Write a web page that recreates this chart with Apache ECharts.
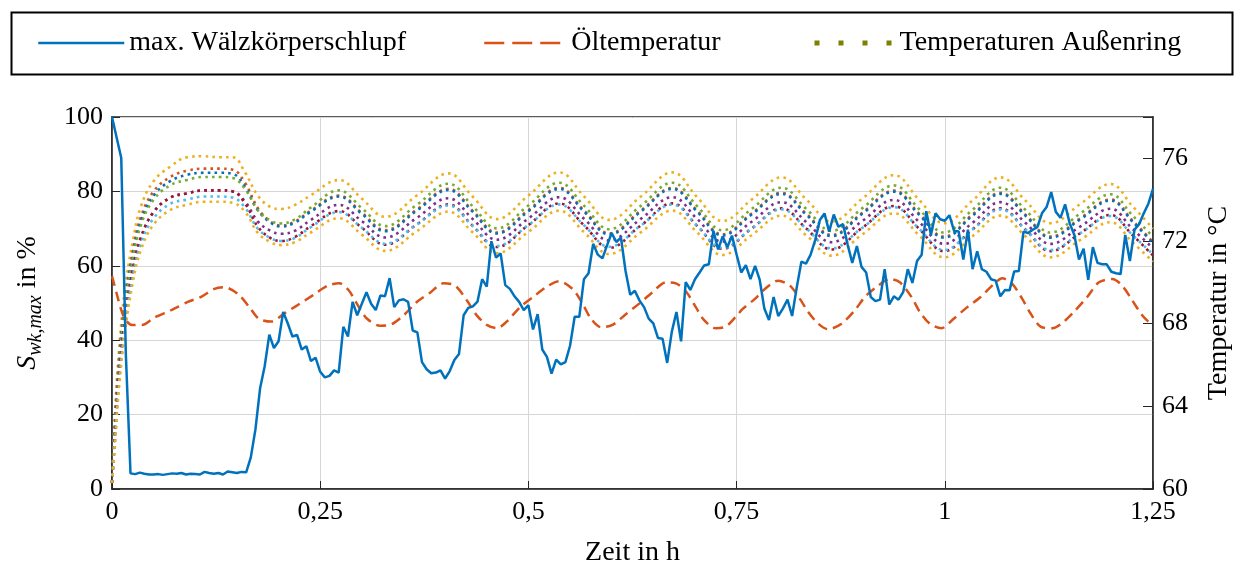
<!DOCTYPE html>
<html>
<head>
<meta charset="utf-8">
<script src="https://cdn.jsdelivr.net/npm/echarts@6/dist/echarts.min.js"></script>
<style>
  html, body { margin: 0; padding: 0; background: #ffffff; }
  #chart { width: 1241px; height: 572px; }
</style>
</head>
<body>
<div id="chart"></div>
<script>
// ---- axis ticks ----
const timeTicks = [0, 0.25, 0.5, 0.75, 1, 1.25];        // Zeit in h
const slipTicks = [0, 20, 40, 60, 80, 100];             // S_wk,max in %
const tempTicks = [60, 64, 68, 72, 76];                 // Temperatur in °C

// ---- max. Wälzkörperschlupf, sampled every 20 s ----
const slipStepH = 1 / 180;
const slipValues = [
  100, 94.5, 89, 36,
  4.2, 4.0, 4.4, 4.1, 3.9, 3.9, 4.0, 3.8, 4.0, 4.2, 4.1, 4.3, 3.9, 4.1, 4.0, 3.9,
  4.6, 4.3, 4.1, 4.3, 3.9, 4.7, 4.5, 4.3, 4.6, 4.5,
  8.5, 16, 27, 33, 41.5, 37.9, 39.7, 47.6, 44.5, 41,
  41.4, 37.5, 38.4, 34.4, 35.3, 31.5, 30.0, 30.4, 31.9, 31.3,
  43.6, 41, 50.3, 46.7, 49.8, 52.9, 49.8, 48.1, 52.0, 51.8,
  56.7, 48.9, 50.7, 51.0, 50.3, 42.6, 42.1, 34.1, 32.2, 31.1,
  31.3, 31.9, 29.7, 31.7, 34.7, 36.3, 46.7, 48.7, 49.1, 50.4,
  56.4, 54.4, 66.6, 62.2, 63.3, 54.8, 53.8, 51.8, 50.3, 48.1,
  49.4, 42.9, 47.0, 37.5, 35.5, 31.0, 34.8, 33.5, 34.1, 38.5,
  46.3, 46.3, 56.4, 58.0, 65.9, 63.0, 62.0, 65.5, 68.8, 66.4,
  67.6, 58.6, 52.2, 53.3, 50.7, 48.9, 45.8, 44.5, 40.6, 40.4,
  33.9, 42.3, 47.6, 39.7, 55.6, 53.5, 56.4, 58.2, 60.1, 60.4,
  69.4, 64.4, 67.9, 65.0, 68.1, 63.0, 58.2, 60.2, 56.4, 60.0,
  56.2, 48.5, 45.4, 51.6, 46.5, 48.5, 50.9, 46.5, 54.2, 61.1,
  60.6, 63.0, 67.0, 72.3, 74.1, 69.2, 73.8, 70.5, 71.2, 65.7,
  60.8, 65.3, 59.7, 58.2, 51.6, 50.5, 50.9, 59.1, 49.6, 51.8,
  50.9, 52.9, 59.1, 55.4, 61.3, 63.0, 74.7, 68.3, 74.1, 72.5,
  72.1, 73.6, 69.4, 69.2, 61.7, 69.7, 59.1, 63.9, 59.1, 58.4,
  56.4, 56.0, 51.8, 53.5, 53.4, 58.5, 58.6, 69.2, 68.8, 69.7,
  70.4, 74.1, 75.8, 79.8, 74.5, 72.9, 76.5, 71.4, 68.3, 61.7,
  64.6, 56.2, 65.0, 60.8, 60.4, 60.4, 58.4, 58.0, 57.8, 68.3,
  61.3, 69.7, 71.2, 74.1, 76.7, 80.7
];

// ---- Öltemperatur ----
const oilTime = [
  0.000, 0.006, 0.010, 0.016, 0.024, 0.036, 0.051, 0.071, 0.091, 0.107,
  0.123, 0.135, 0.151, 0.165, 0.176, 0.191, 0.207, 0.223, 0.241, 0.259,
  0.273, 0.284, 0.294, 0.306, 0.322, 0.334, 0.350, 0.366, 0.382, 0.398,
  0.412, 0.426, 0.438, 0.450, 0.462, 0.474, 0.490, 0.506, 0.521, 0.537,
  0.553, 0.565, 0.575, 0.587, 0.601, 0.617, 0.633, 0.649, 0.665, 0.677,
  0.689, 0.701, 0.711, 0.725, 0.737, 0.749, 0.757, 0.772, 0.784, 0.800,
  0.814, 0.826, 0.836, 0.848, 0.860, 0.876, 0.892, 0.904, 0.920, 0.934,
  0.946, 0.960, 0.970, 0.982, 0.996, 1.011, 1.027, 1.043, 1.059, 1.069,
  1.081, 1.093, 1.103, 1.115, 1.129, 1.143, 1.155, 1.171, 1.185, 1.201,
  1.213, 1.225, 1.237, 1.250
];
const oilTemp = [
  70.3, 69.4, 68.8, 68.2, 67.94, 67.94, 68.3, 68.65, 69.05, 69.3,
  69.68, 69.76, 69.44, 68.8, 68.25, 68.1, 68.5, 68.9, 69.37, 69.84,
  69.95, 69.63, 68.97, 68.25, 67.9, 67.94, 68.4, 69.05, 69.5, 69.95,
  69.84, 69.13, 68.4, 67.94, 67.78, 68.1, 68.8, 69.3, 69.76, 70.05,
  69.68, 68.97, 68.25, 67.83, 67.94, 68.46, 68.97, 69.52, 70.0, 69.95,
  69.57, 68.8, 68.17, 67.78, 67.86, 68.33, 68.7, 69.2, 69.68, 70.08,
  69.84, 69.2, 68.57, 68.0, 67.73, 68.0, 68.65, 69.29, 69.84, 70.16,
  70.0, 69.29, 68.57, 68.0, 67.78, 68.25, 68.8, 69.29, 69.92, 70.2,
  69.92, 69.2, 68.49, 67.86, 67.78, 68.1, 68.57, 69.29, 70.0, 70.16,
  69.84, 69.13, 68.41, 67.89
];

// ---- Temperaturen Außenring (eight measuring points) ----
const ringTime = [
  0, 0.004, 0.008, 0.015, 0.025, 0.035, 0.05, 0.07,
  0.09, 0.11, 0.13, 0.145,
  0.16, 0.175, 0.19, 0.203, 0.22, 0.238,
  0.2725, 0.30, 0.328, 0.366, 0.404, 0.433, 0.462, 0.50, 0.537, 0.567,
  0.597, 0.635, 0.673, 0.703, 0.733, 0.768, 0.804, 0.834, 0.864, 0.901,
  0.939, 0.969, 0.999, 1.033, 1.067, 1.097, 1.127, 1.163, 1.199, 1.225, 1.25
];
const ringYellowTop = [
  60.3, 64.0, 66.5, 69.5, 72.0, 73.7, 74.9, 75.6,
  76.05, 76.1, 76.05, 76.05,
  75.3, 74.2, 73.65, 73.55, 73.75, 74.2,
  74.95, 74.05, 73.17, 74.2, 75.27, 74.15, 73.06, 74.2, 75.32, 74.15,
  73.02, 74.15, 75.32, 74.1, 72.97, 74.0, 75.08, 74.0, 72.94, 74.05,
  75.19, 74.0, 72.86, 73.95, 75.08, 73.95, 72.86, 73.8, 74.76, 73.7, 72.6
];
const ringOrange = [
  60.3, 63.6, 66.0, 69.0, 71.5, 73.2, 74.4, 75.1,
  75.4, 75.5, 75.5, 75.45,
  74.8, 73.6, 72.95, 72.75, 72.95, 73.45,
  74.2, 73.36, 72.52, 73.52, 74.52, 73.47, 72.41, 73.49, 74.57, 73.47,
  72.37, 73.47, 74.57, 73.45, 72.32, 73.33, 74.33, 73.31, 72.29, 73.37,
  74.44, 73.33, 72.21, 73.27, 74.33, 73.27, 72.21, 73.11, 74.01, 73.0, 71.95
];
const ringBlue = [
  60.3, 63.4, 65.8, 68.8, 71.3, 73.0, 74.2, 74.9,
  75.2, 75.3, 75.3, 75.25,
  74.6, 73.5, 72.9, 72.7, 72.9, 73.4,
  74.15, 73.31, 72.47, 73.47, 74.47, 73.42, 72.36, 73.44, 74.52, 73.42,
  72.32, 73.42, 74.52, 73.4, 72.27, 73.28, 74.28, 73.26, 72.24, 73.32,
  74.39, 73.28, 72.16, 73.22, 74.28, 73.22, 72.16, 73.06, 73.96, 72.95, 71.9
];
const ringGreen = [
  60.3, 63.2, 65.6, 68.6, 71.1, 72.8, 74.0, 74.7,
  74.95, 75.1, 75.1, 75.05,
  74.5, 73.5, 73.0, 72.85, 73.05, 73.6,
  74.45, 73.59, 72.72, 73.75, 74.77, 73.69, 72.61, 73.72, 74.82, 73.7,
  72.57, 73.7, 74.82, 73.67, 72.52, 73.55, 74.58, 73.54, 72.49, 73.59,
  74.69, 73.55, 72.41, 73.5, 74.58, 73.5, 72.41, 73.34, 74.26, 73.25, 72.2
];
const ringPurple = [
  60.3, 62.8, 65.2, 68.0, 70.6, 72.2, 73.4, 74.1,
  74.3, 74.45, 74.45, 74.4,
  73.9, 72.95, 72.5, 72.35, 72.5, 73.0,
  73.75, 72.96, 72.17, 73.12, 74.07, 73.07, 72.06, 73.09, 74.12, 73.07,
  72.02, 73.07, 74.12, 73.05, 71.97, 72.93, 73.88, 72.91, 71.94, 72.97,
  73.99, 72.93, 71.86, 72.87, 73.88, 72.87, 71.86, 72.71, 73.56, 72.6, 71.65
];
const ringDarkRed = [
  60.3, 62.8, 65.2, 68.0, 70.6, 72.2, 73.4, 74.1,
  74.3, 74.45, 74.45, 74.4,
  73.8, 72.7, 72.15, 72.0, 72.2, 72.7,
  73.45, 72.64, 71.82, 72.8, 73.77, 72.74, 71.71, 72.77, 73.82, 72.75,
  71.67, 72.75, 73.82, 72.72, 71.62, 72.6, 73.58, 72.59, 71.59, 72.64,
  73.69, 72.6, 71.51, 72.55, 73.58, 72.55, 71.51, 72.39, 73.26, 72.3, 71.3
];
const ringLightBlue = [
  60.3, 62.6, 64.9, 67.7, 70.3, 71.9, 73.1, 73.8,
  74.0, 74.15, 74.15, 74.1,
  73.6, 72.6, 72.15, 72.0, 72.15, 72.65,
  73.4, 72.64, 71.87, 72.8, 73.72, 72.74, 71.76, 72.77, 73.77, 72.75,
  71.72, 72.75, 73.77, 72.72, 71.67, 72.6, 73.53, 72.59, 71.64, 72.64,
  73.64, 72.6, 71.56, 72.55, 73.53, 72.55, 71.56, 72.39, 73.21, 72.3, 71.35
];
const ringYellowBottom = [
  60.3, 62.4, 64.7, 67.4, 70.0, 71.6, 72.8, 73.5,
  73.75, 73.9, 73.9, 73.85,
  73.4, 72.4, 71.95, 71.8, 71.95, 72.4,
  73.1, 72.31, 71.52, 72.47, 73.42, 72.42, 71.41, 72.44, 73.47, 72.42,
  71.37, 72.42, 73.47, 72.4, 71.32, 72.28, 73.23, 72.26, 71.29, 72.32,
  73.34, 72.28, 71.21, 72.22, 73.23, 72.22, 71.21, 72.06, 72.91, 71.95, 71.0
];

// ---- styling ----
const FONT = 'Liberation Serif';
const INK = '#000000';
const AXIS_INK = '#262626';
const GRID_INK = '#d6d6d6';

const ringCurves = [
  { name: 'Außenring 1', color: '#EDB120', values: ringYellowTop },
  { name: 'Außenring 2', color: '#D95319', values: ringOrange },
  { name: 'Außenring 3', color: '#0072BD', values: ringBlue },
  { name: 'Außenring 4', color: '#77AC30', values: ringGreen },
  { name: 'Außenring 5', color: '#7E2F8E', values: ringPurple },
  { name: 'Außenring 6', color: '#A2142F', values: ringDarkRed },
  { name: 'Außenring 7', color: '#4DBEEE', values: ringLightBlue },
  { name: 'Außenring 8', color: '#EDB120', values: ringYellowBottom }
];

const zip = (xs, ys) => ys.map((y, i) => [xs[i], y]);
const slipData = slipValues.map((v, i) => [i * slipStepH, v]);

const series = [];
ringCurves.forEach(c => {
  series.push({
    name: c.name, type: 'line', yAxisIndex: 1, symbol: 'none', smooth: 0.4,
    data: zip(ringTime, c.values), z: 2, silent: true,
    lineStyle: { color: c.color, width: 2.6, type: [2.6, 4.2], cap: 'butt' }
  });
});
series.push({
  name: 'Öltemperatur', type: 'line', yAxisIndex: 1, symbol: 'none', smooth: 0.3,
  data: zip(oilTime, oilTemp), z: 3,
  itemStyle: { color: '#D95319' },
  lineStyle: { color: '#D95319', width: 2.5, type: [10, 6] }
});
series.push({
  name: 'max. Wälzkörperschlupf', type: 'line', yAxisIndex: 0, symbol: 'none',
  data: slipData, z: 4,
  itemStyle: { color: '#0072BD' },
  lineStyle: { color: '#0072BD', width: 2.5 }
});
// legend entry standing for the whole group of ring temperatures
series.push({
  name: 'Temperaturen Außenring', type: 'line', yAxisIndex: 1, symbol: 'none', data: [],
  itemStyle: { color: '#7f7f00' },
  lineStyle: { color: '#7f7f00', width: 5, type: [5, 19] }
});

const legendBase = {
  top: 24, itemHeight: 14, itemGap: 0,
  itemStyle: { opacity: 0 },
  textStyle: { fontFamily: FONT, fontSize: 28, color: INK },
  selectedMode: false
};

const option = {
  animation: false,
  backgroundColor: '#ffffff',
  textStyle: { fontFamily: FONT },
  graphic: [{
    type: 'rect', left: 9, top: 10,
    shape: { width: 1221, height: 62 },
    style: { fill: 'none', stroke: '#000', lineWidth: 2 }
  }],
  legend: [
    Object.assign({}, legendBase, {
      left: 32, itemWidth: 86,
      data: [{ name: 'max. Wälzkörperschlupf', lineStyle: { width: 2.5, color: '#0072BD' } }]
    }),
    Object.assign({}, legendBase, {
      left: 478, itemWidth: 82,
      data: [{ name: 'Öltemperatur', lineStyle: { type: [20, 8], width: 2.5, color: '#D95319' } }]
    }),
    Object.assign({}, legendBase, {
      left: 807, itemWidth: 80,
      data: [{ name: 'Temperaturen Außenring', lineStyle: { type: [5, 19], width: 5, color: '#7f7f00' } }]
    })
  ],
  grid: {
    left: 112, right: 83, top: 117, bottom: 77,
    show: true, borderColor: AXIS_INK, borderWidth: 1.5, backgroundColor: 'transparent'
  },
  xAxis: {
    type: 'value', min: timeTicks[0], max: timeTicks[timeTicks.length - 1], interval: 0.25,
    name: 'Zeit in h', nameLocation: 'middle', nameGap: 50,
    nameTextStyle: { fontFamily: FONT, fontSize: 28, color: INK },
    axisLine: { show: true, lineStyle: { color: AXIS_INK, width: 1.5 } },
    axisTick: { show: true, inside: true, length: 8, lineStyle: { color: AXIS_INK } },
    axisLabel: {
      fontFamily: FONT, fontSize: 26, color: INK, margin: 10,
      formatter: v => String(v).replace('.', ',')
    },
    splitLine: { show: true, lineStyle: { color: GRID_INK, width: 1 } }
  },
  yAxis: [
    {
      type: 'value', min: slipTicks[0], max: slipTicks[slipTicks.length - 1], interval: 20,
      position: 'left',
      name: '{it|S}{sub|wk,max}{n| in %}', nameLocation: 'middle', nameGap: 66, nameRotate: 90,
      nameTextStyle: {
        fontFamily: FONT, fontSize: 28, color: INK,
        rich: {
          it: { fontFamily: FONT, fontStyle: 'italic', fontSize: 28, color: INK, lineHeight: 36, verticalAlign: 'middle' },
          sub: { fontFamily: FONT, fontStyle: 'italic', fontSize: 20, color: INK, lineHeight: 36, verticalAlign: 'bottom' },
          n: { fontFamily: FONT, fontSize: 28, color: INK, lineHeight: 36, verticalAlign: 'middle' }
        }
      },
      axisLine: { show: true, lineStyle: { color: AXIS_INK, width: 1.5 } },
      axisTick: { show: true, inside: true, length: 8, lineStyle: { color: AXIS_INK } },
      axisLabel: { fontFamily: FONT, fontSize: 26, color: INK, margin: 9 },
      splitLine: { show: true, lineStyle: { color: GRID_INK, width: 1 } }
    },
    {
      type: 'value', min: 60, max: 78, interval: 4, position: 'right',
      name: 'Temperatur in °C', nameLocation: 'middle', nameGap: 52, nameRotate: 90,
      nameTextStyle: { fontFamily: FONT, fontSize: 28, color: INK },
      axisLine: { show: true, lineStyle: { color: AXIS_INK, width: 1.5 } },
      axisTick: { show: true, inside: true, length: 10, lineStyle: { color: AXIS_INK } },
      axisLabel: {
        fontFamily: FONT, fontSize: 26, color: INK, margin: 9,
        formatter: v => (tempTicks.indexOf(v) >= 0 ? String(v) : '')
      },
      splitLine: { show: false }
    }
  ],
  series: series
};

const chart = echarts.init(document.getElementById('chart'), null, { renderer: 'canvas' });
chart.setOption(option);
</script>
</body>
</html>
